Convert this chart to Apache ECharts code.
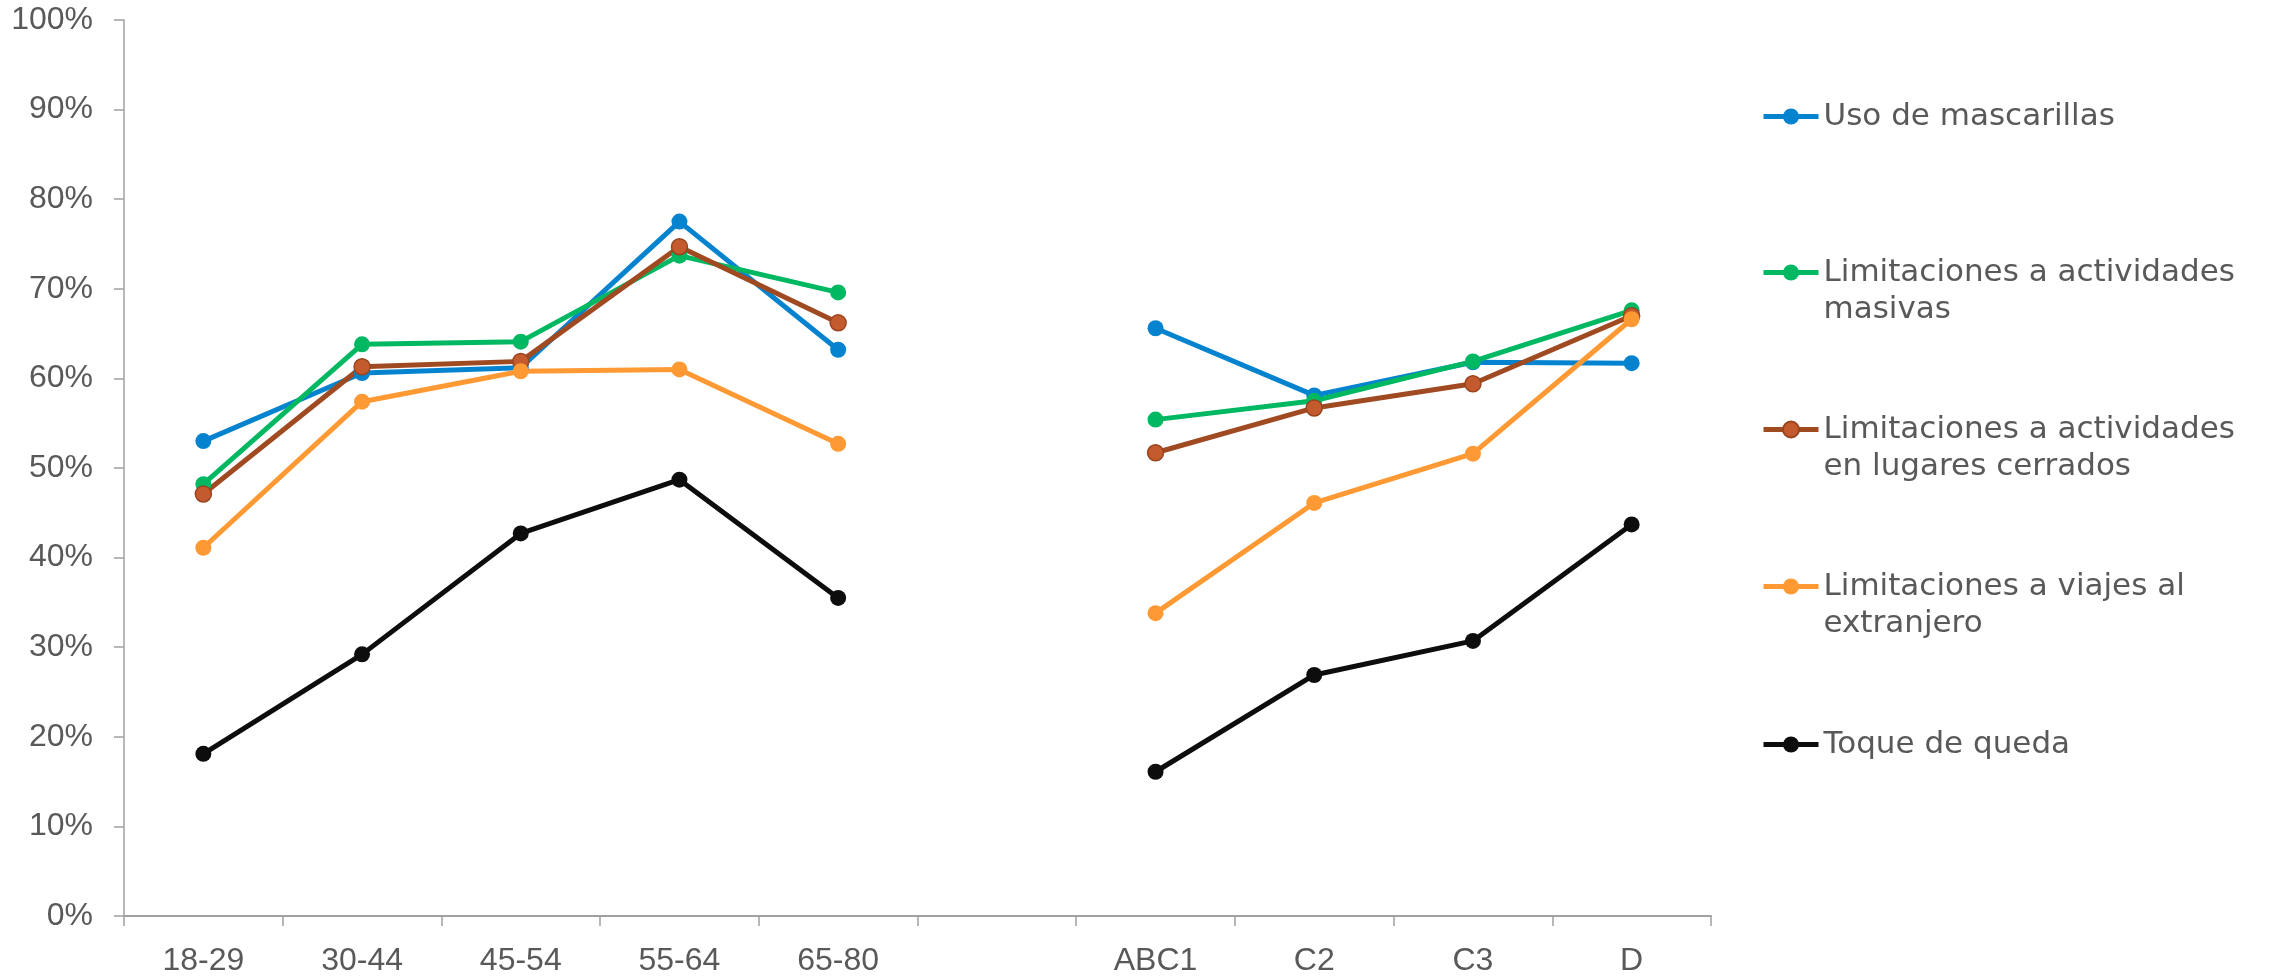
<!DOCTYPE html>
<html style="height: 100%">
<head>
    <meta charset="utf-8">
</head>
<body style="height: 100%; margin: 0; background: #fff">
    <div id="container" style="width: 2276px; height: 976px"></div>
    <script type="text/javascript" src="https://cdn.jsdelivr.net/npm/echarts@6/dist/echarts.min.js"></script>
<script type="text/javascript">
    // categories: age groups, empty slot, socio-economic groups
    var categories = ['18-29', '30-44', '45-54', '55-64', '65-80', '', 'ABC1', 'C2', 'C3', 'D'];
    var yTicks = [0, 10, 20, 30, 40, 50, 60, 70, 80, 90, 100];

    var mascarillas = [53.0, 60.6, 61.2, 77.5, 63.2, null, 65.6, 58.1, 61.8, 61.7];
    var masivas     = [48.2, 63.8, 64.1, 73.7, 69.6, null, 55.4, 57.5, 61.9, 67.6];
    var cerrados    = [47.1, 61.3, 61.9, 74.7, 66.2, null, 51.7, 56.7, 59.4, 67.0];
    var viajes      = [41.1, 57.4, 60.8, 61.0, 52.7, null, 33.8, 46.1, 51.6, 66.6];
    var toque       = [18.1, 29.2, 42.7, 48.7, 35.5, null, 16.1, 26.9, 30.7, 43.7];

    var names = ['Uso de mascarillas', 'Limitaciones a actividades masivas',
                 'Limitaciones a actividades en lugares cerrados',
                 'Limitaciones a viajes al extranjero', 'Toque de queda'];
    // legend labels; a leading blank line keeps the icon on the first text line
    var legendText = {
        'Uso de mascarillas': 'Uso de mascarillas',
        'Limitaciones a actividades masivas': ' \nLimitaciones a actividades\nmasivas',
        'Limitaciones a actividades en lugares cerrados': ' \nLimitaciones a actividades\nen lugares cerrados',
        'Limitaciones a viajes al extranjero': ' \nLimitaciones a viajes al\nextranjero',
        'Toque de queda': 'Toque de queda'
    };

    var dom = document.getElementById("container");
    var myChart = echarts.init(dom);

    var lineColors = ['#0683CF', '#00B862', '#A04A22', '#FF9933', '#0D0D0D'];
    var dotColors  = ['#0683CF', '#00B862', '#C45B2E', '#FF9933', '#0D0D0D'];
    var values = [mascarillas, masivas, cerrados, viajes, toque];

    var series = [];
    var legends = [];
    var legendCenters = [116, 273, 430, 587, 744];
    for (var i = 0; i < names.length; i++) {
        series.push({
            name: names[i],
            type: 'line',
            data: values[i],
            symbol: 'circle',
            symbolSize: 16,
            lineStyle: {color: lineColors[i], width: 5},
            itemStyle: {
                color: dotColors[i],
                borderColor: i === 2 ? '#9A4520' : dotColors[i],
                borderWidth: i === 2 ? 1.5 : 0
            },
            emphasis: {disabled: true}
        });
        var twoLines = legendText[names[i]].indexOf('\n') >= 0;
        legends.push({
            data: [names[i]],
            left: 1761,
            top: legendCenters[i] - (twoLines ? 56 : 18),
            padding: 0,
            itemWidth: 55,
            itemHeight: 20,
            lineStyle: {width: 5},
            formatter: function (n) { return legendText[n]; },
            textStyle: {
                fontFamily: 'DejaVu Sans',
                fontSize: 31,
                color: '#595959',
                lineHeight: 37
            }
        });
    }

    myChart.setOption({
        animation: false,
        grid: {left: 124, right: 565, top: 20, bottom: 60, outerBoundsMode: 'none'},
        legend: legends,
        xAxis: {
            type: 'category',
            data: categories,
            boundaryGap: true,
            axisLine: {lineStyle: {color: '#A0A0A0', width: 2}},
            axisTick: {show: true, interval: 0, length: 10, lineStyle: {color: '#A0A0A0', width: 1.5}},
            axisLabel: {
                interval: 0,
                margin: 29,
                fontFamily: 'Liberation Sans',
                fontSize: 32,
                color: '#595959'
            }
        },
        yAxis: {
            type: 'value',
            min: yTicks[0],
            max: yTicks[yTicks.length - 1],
            interval: 10,
            axisLine: {show: true, lineStyle: {color: '#A0A0A0', width: 1.5}},
            axisTick: {show: true, length: 10, lineStyle: {color: '#A0A0A0', width: 1.5}},
            splitLine: {show: false},
            axisLabel: {
                formatter: '{value}%',
                margin: 31,
                fontFamily: 'Liberation Sans',
                fontSize: 32,
                color: '#595959'
            }
        },
        series: series
    });
</script>
</body>
</html>
